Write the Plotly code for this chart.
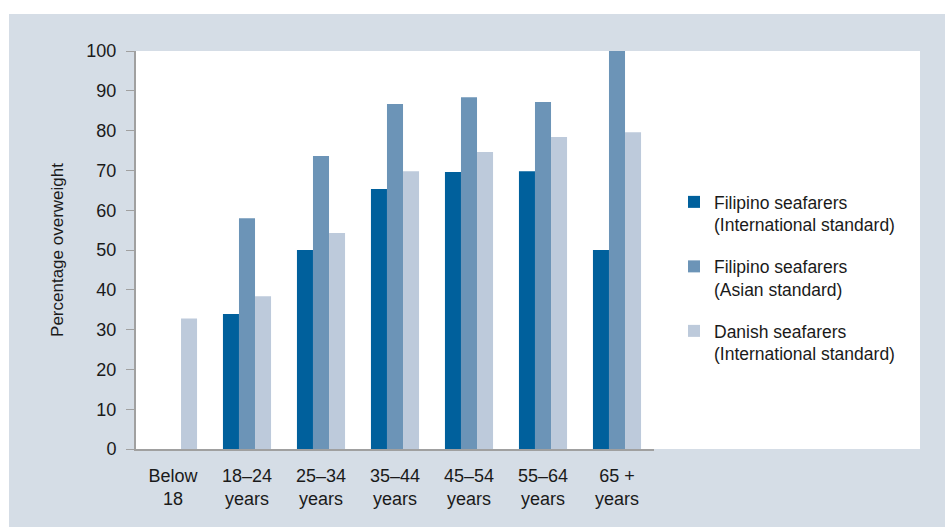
import plotly.graph_objects as go

# Age groups and percentage overweight per group
age_groups = ["Below<br>18", "18–24<br>years", "25–34<br>years", "35–44<br>years",
              "45–54<br>years", "55–64<br>years", "65 +<br>years"]
filipino_international = [None, 33.9, 50.0, 65.3, 69.6, 69.8, 50.0]
filipino_asian = [None, 58.0, 73.6, 86.7, 88.4, 87.2, 100.0]
danish_international = [32.8, 38.4, 54.3, 69.8, 74.6, 78.4, 79.6]

series_names = [
    "Filipino seafarers<br>(International standard)",
    "Filipino seafarers<br>(Asian standard)",
    "Danish seafarers<br>(International standard)",
]
series_values = [filipino_international, filipino_asian, danish_international]
series_colors = ["#00609c", "#6c94b7", "#bdcadb"]

y_ticks = list(range(0, 101, 10))

W, H = 945, 527
L, R, T, B = 136, 291, 51, 78
pw, ph = W - L - R, H - T - B


def px_x(p):
    return (p - L) / pw


def px_y(p):
    return (H - B - p) / ph


fig = go.Figure()
for i, (name, vals, col) in enumerate(zip(series_names, series_values, series_colors)):
    fig.add_trace(go.Bar(
        x=age_groups, y=vals, name=name, marker=dict(color=col, line=dict(width=0)),
        legendgroup=f"g{i}",
    ))

font_family = "Liberation Sans, Arial, sans-serif"
text_color = "#1a1a1a"

fig.update_layout(
    width=W, height=H,
    margin=dict(l=L, r=R, t=T, b=B, autoexpand=False),
    paper_bgcolor="white",
    plot_bgcolor="white",
    barmode="group",
    bargap=0.35,
    bargroupgap=0,
    font=dict(family=font_family, size=17, color=text_color),
    showlegend=True,
    legend=dict(
        x=px_x(674), xanchor="left",
        y=px_y(184), yanchor="top",
        bgcolor="rgba(0,0,0,0)",
        font=dict(size=17.5, color=text_color),
        valign="top",
        tracegroupgap=16,
        itemwidth=30,
        traceorder="grouped",
    ),
    shapes=[
        dict(type="rect", xref="paper", yref="paper", layer="below",
             x0=px_x(9), x1=px_x(W + 5), y0=px_y(H + 5), y1=px_y(14),
             fillcolor="#d5dde6", line=dict(width=0)),
        dict(type="rect", xref="paper", yref="paper", layer="below",
             x0=0, x1=px_x(920), y0=0, y1=1,
             fillcolor="white", line=dict(width=0)),
    ],
)

fig.update_xaxes(
    showgrid=False, showline=True, linecolor="#a0a0a0", linewidth=2,
    ticks="", tickfont=dict(size=18, color=text_color),
    ticklabelstandoff=9,
)
fig.update_yaxes(
    range=[0, 100], tickvals=y_ticks, showgrid=False, zeroline=False,
    showline=True, linecolor="#a0a0a0", linewidth=2,
    ticks="outside", ticklen=8, tickcolor="#a0a0a0", tickwidth=1,
    tickfont=dict(size=18, color=text_color),
    ticklabelstandoff=6,
    title=dict(text="Percentage overweight", font=dict(size=17, color=text_color), standoff=18),
)

fig.write_html("out.html")
